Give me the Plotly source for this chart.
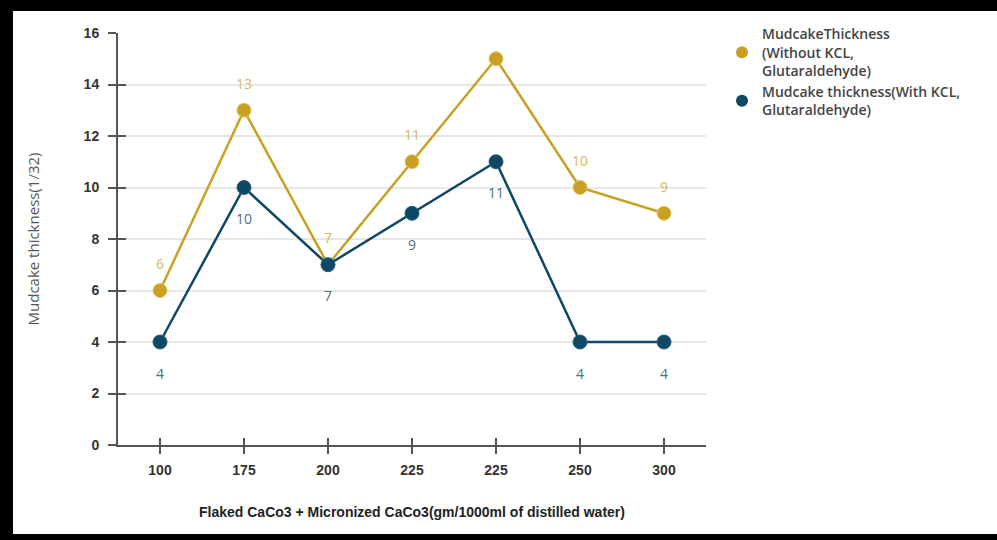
import plotly.graph_objects as go

categories = ["100", "175", "200", "225", "225 ", "250", "300"]
tick_labels = ["100", "175", "200", "225", "225", "250", "300"]
without_kcl = [6, 13, 7, 11, 15, 10, 9]
without_kcl_labels = ["6", "13", "7", "11", "", "10", "9"]
with_kcl = [4, 10, 7, 9, 11, 4, 4]
with_kcl_labels = ["4", "10", "7", "9", "11", "4", "4"]

name1 = "MudcakeThickness<br>(Without KCL,<br>Glutaraldehyde)"
name2 = "Mudcake thickness(With KCL,<br>Glutaraldehyde)"

GOLD = "#C9A024"
BLUE = "#0F4864"
GOLD_TXT = "#D4B860"
BLUE_TXT = "#4E6E84"

fig = go.Figure()
fig.add_trace(go.Scatter(x=categories, y=without_kcl, mode="lines+markers", name=name1,
                         showlegend=False,
                         line=dict(color=GOLD, width=2.5),
                         marker=dict(color=GOLD, size=14, line=dict(color="#E3C667", width=1))))
fig.add_trace(go.Scatter(x=categories, y=with_kcl, mode="lines+markers", name=name2,
                         showlegend=False,
                         line=dict(color=BLUE, width=2.5),
                         marker=dict(color=BLUE, size=14, line=dict(color="#2A6080", width=1))))
# legend entries (marker only, like the reference)
fig.add_trace(go.Scatter(x=[None], y=[None], mode="markers", name=name1,
                         marker=dict(color=GOLD, size=14)))
fig.add_trace(go.Scatter(x=[None], y=[None], mode="markers", name=name2,
                         marker=dict(color=BLUE, size=14)))
# invisible trace to carry the inward half of the crossing ticks
fig.add_trace(go.Scatter(x=categories, y=with_kcl, xaxis="x2", yaxis="y2", mode="markers",
                         marker=dict(opacity=0), showlegend=False, hoverinfo="skip"))

annotations = []
for i, (v, t) in enumerate(zip(without_kcl, without_kcl_labels)):
    if t:
        annotations.append(dict(x=i, y=v, text=t, showarrow=False, yshift=27,
                                font=dict(family="Open Sans", size=14, color=GOLD_TXT)))
for i, (v, t) in enumerate(zip(with_kcl, with_kcl_labels)):
    if t:
        annotations.append(dict(x=i, y=v, text=t, showarrow=False, yshift=-31,
                                font=dict(family="Open Sans", size=14, color=BLUE_TXT)))

fig.update_layout(
    width=997, height=540,
    margin=dict(l=118, r=291, t=33, b=95, autoexpand=False),
    paper_bgcolor="white", plot_bgcolor="white",
    showlegend=True,
    legend=dict(x=1.0272, y=1.0356, xanchor="left", yanchor="top",
                font=dict(family="Open Sans", size=14, color="#444444", weight=600),
                itemsizing="constant", itemwidth=30, tracegroupgap=10,
                bgcolor="rgba(0,0,0,0)"),
    xaxis=dict(type="category", categoryorder="array", categoryarray=categories,
               range=[-0.5, 6.5], tickvals=categories, ticktext=tick_labels,
               showline=True, linecolor="#555555", linewidth=2, automargin=False,
               ticks="outside", ticklen=7, tickwidth=2, tickcolor="#555555",
               showgrid=False, zeroline=False, ticklabelstandoff=4,
               tickfont=dict(family="Liberation Sans", size=14, color="#333333", weight="bold"),
               title=dict(text="Flaked CaCo3 + Micronized CaCo3(gm/1000ml of distilled water)",
                          standoff=30,
                          font=dict(family="Liberation Sans", size=14, color="#222222", weight="bold"))),
    yaxis=dict(range=[0, 16], tickvals=[0, 2, 4, 6, 8, 10, 12, 14, 16],
               showline=True, linecolor="#555555", linewidth=2, automargin=False,
               ticks="outside", ticklen=8, tickwidth=2, tickcolor="#555555",
               showgrid=True, gridcolor="#E6E6E6", gridwidth=2, zeroline=False,
               ticklabelstandoff=6,
               tickfont=dict(family="Liberation Sans", size=14, color="#333333", weight="bold"),
               title=dict(text="Mudcake thickness(1/32)", standoff=40,
                          font=dict(family="Open Sans", size=15, color="#555555"))),
    xaxis2=dict(type="category", overlaying="x", side="bottom", anchor="y2",
                categoryorder="array", categoryarray=categories, range=[-0.5, 6.5],
                tickvals=categories, ticks="inside", ticklen=7, tickwidth=2, tickcolor="#555555",
                showticklabels=False, showgrid=False, zeroline=False, showline=False),
    yaxis2=dict(overlaying="y", side="left", anchor="x2", range=[0, 16],
                tickvals=[0, 2, 4, 6, 8, 10, 12, 14, 16], ticks="inside", ticklen=8,
                tickwidth=2, tickcolor="#555555", showticklabels=False, showgrid=False,
                zeroline=False, showline=False),
    annotations=annotations,
)

# black photo frame around the image (paper coords relative to plot area)
W, H = 997, 540
L, R, T, B = 118, 706, 33, 445
pw, ph = R - L, B - T
def px(x):
    return (x - L) / pw
def py(y):
    return (B - y) / ph
frame = [(0, 0, 13, H), (0, 0, W, 11), (0, 534, W, H)]
for x0, y0, x1, y1 in frame:
    fig.add_shape(type="rect", xref="paper", yref="paper",
                  x0=px(x0), x1=px(x1), y0=py(y1), y1=py(y0),
                  fillcolor="black", line=dict(width=0), layer="above")

fig.write_html("out.html", config={"displayModeBar": False},
               post_script="document.body.style.margin='0px';document.body.style.overflow='hidden';")
